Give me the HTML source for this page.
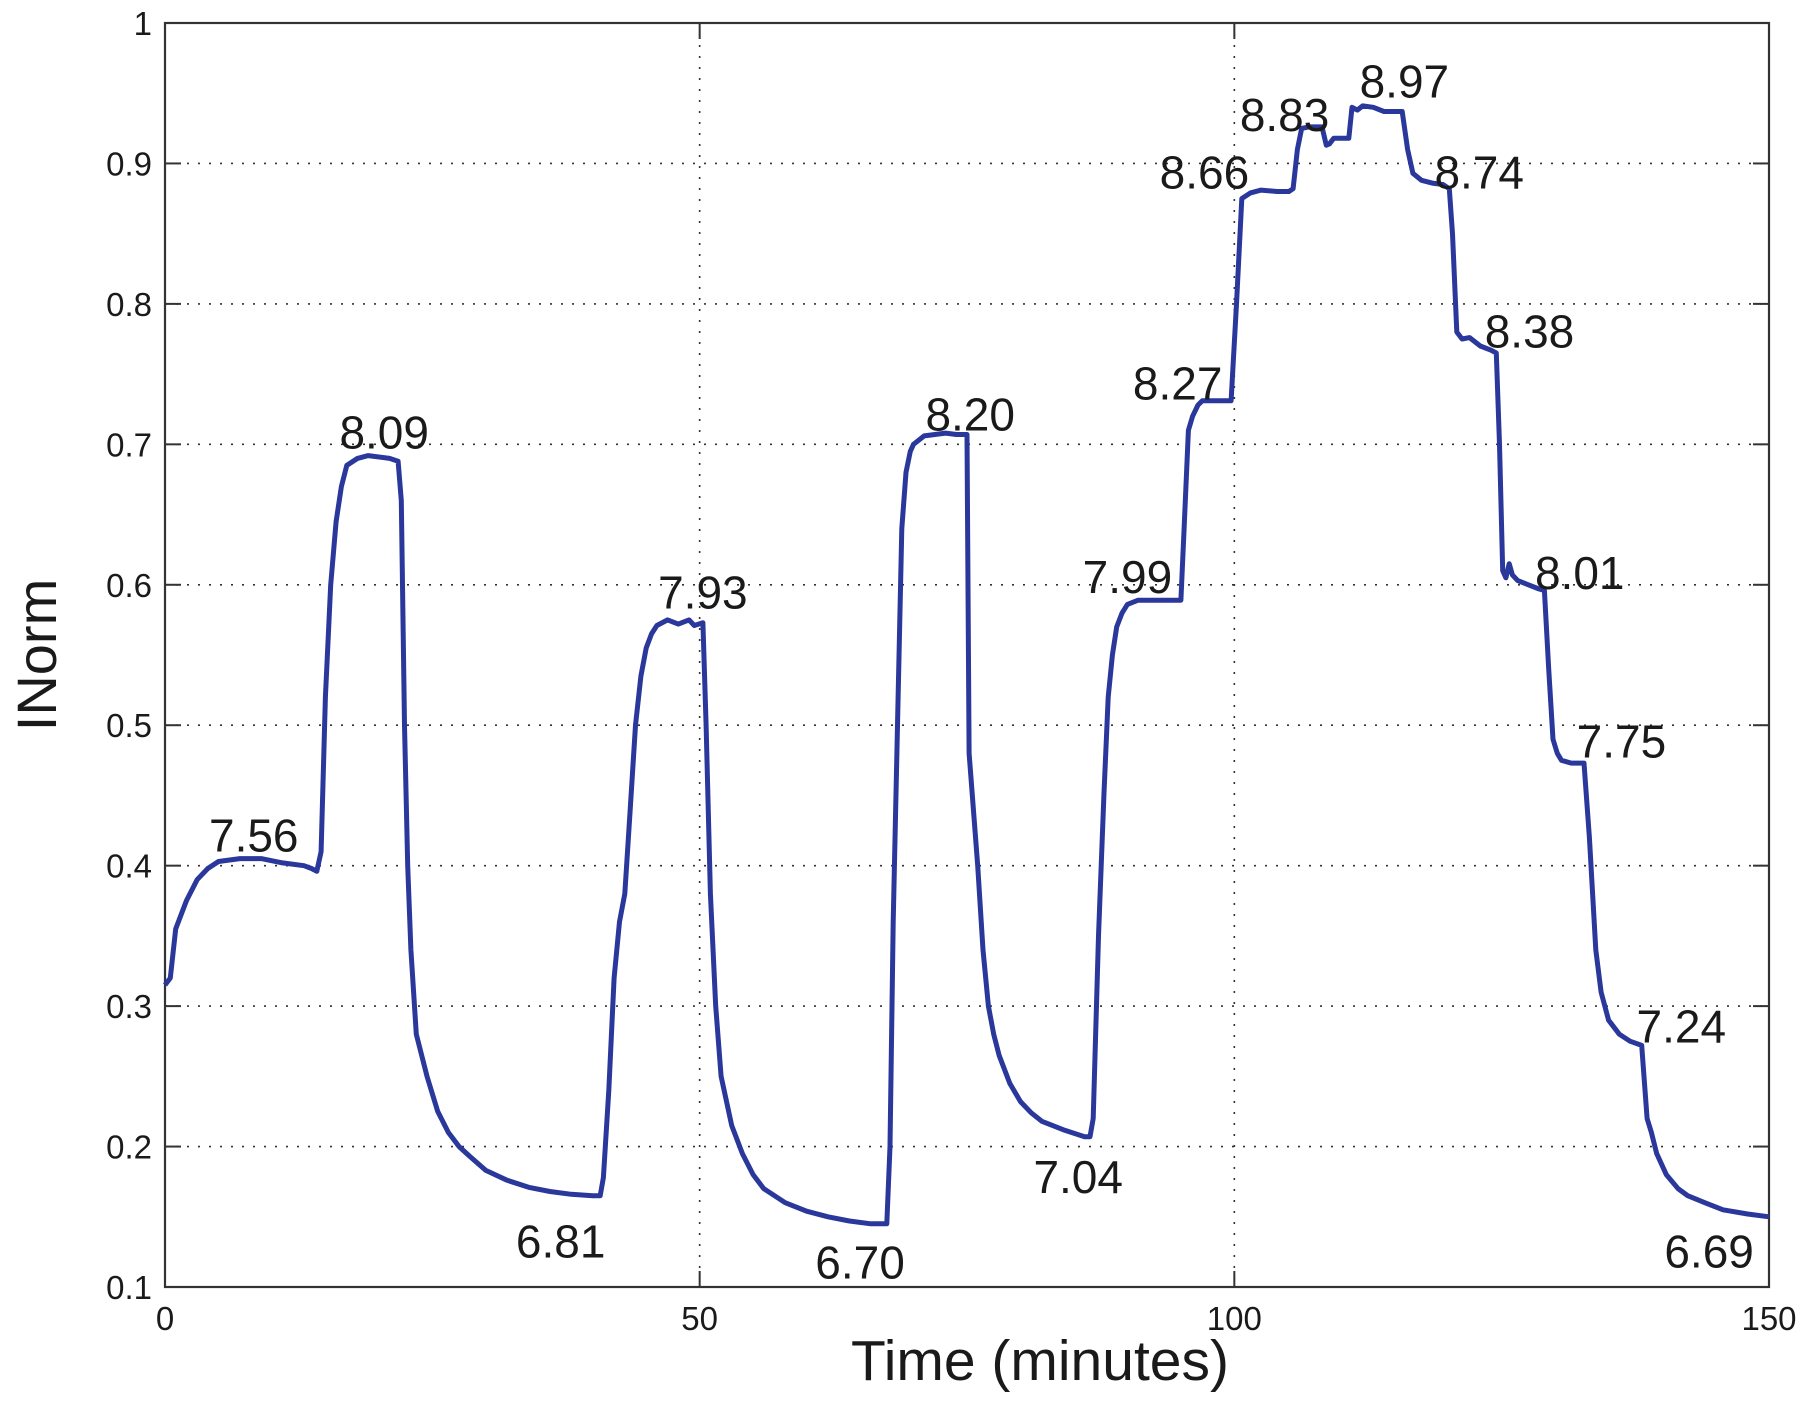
<!DOCTYPE html>
<html><head><meta charset="utf-8">
<style>
html,body{margin:0;padding:0;background:#fff;}
svg{display:block;font-family:"Liberation Sans",Arial,sans-serif;}
</style></head>
<body>
<svg id="chart" width="1811" height="1403" viewBox="0 0 1811 1403" xmlns="http://www.w3.org/2000/svg">
<g id="grid"></g>
<g id="axes"></g>
<g id="series"></g>
<g id="labels"></g>
<text x="1040" y="1380" font-size="57" text-anchor="middle" fill="#1a1a1a">Time (minutes)</text>
<text transform="translate(56,655) rotate(-90)" font-size="56" text-anchor="middle" fill="#1a1a1a">INorm</text>
</svg>
<script>
const times = [
0,0.5,1,2,3,4,5,7,9,11,
13,13.7,14.2,14.6,15,15.5,16,16.5,17,18,
19,21,21.8,22.1,22.4,22.7,23,23.5,24.5,25.5,
26.5,27.5,28.5,30,32,34,36,38,40,40.7,
41,41.5,42,42.5,43,43.5,44,44.5,45,45.5,
46,47,48,49,49.5,50.3,50.6,51,51.5,52,
53,54,55,56,58,60,62,64,66,67.5,
67.8,68.1,68.5,68.9,69.3,69.7,70,71,72,73,
74,75,75.2,75.6,76,76.5,77,77.5,78,79,
80,81,82,84,86,86.5,86.8,87.3,87.8,88.2,
88.6,89,89.5,90,91,93,95,95.3,95.7,96.1,
96.6,97,98,99.7,100.2,100.7,101.5,102.5,104,105.1,
105.5,105.9,106.3,107,108.2,108.6,108.9,109.3,110,110.7,
111,111.5,112,113,114,115,115.7,116.2,116.7,117.5,
118.5,119.5,120.1,120.4,120.8,121.3,122,123,124,124.5,
124.8,125.1,125.4,125.7,126,126.5,127.5,128.5,129,129.4,
129.8,130.2,130.6,131.5,132.7,133.2,133.8,134.3,135,136,
137,138.1,138.6,139,139.5,140.4,141.5,142.4,144,145.7,
148,150];
const inorm = [
0.315,0.32,0.355,0.375,0.39,0.398,0.403,0.405,0.405,0.402,
0.4,0.398,0.396,0.41,0.52,0.6,0.645,0.67,0.685,0.69,
0.692,0.69,0.688,0.66,0.5,0.4,0.34,0.28,0.25,0.225,
0.21,0.2,0.193,0.183,0.176,0.171,0.168,0.166,0.165,0.165,
0.178,0.24,0.32,0.36,0.38,0.44,0.5,0.535,0.555,0.565,
0.571,0.575,0.572,0.575,0.571,0.573,0.5,0.38,0.3,0.25,
0.215,0.195,0.18,0.17,0.16,0.154,0.15,0.147,0.145,0.145,
0.2,0.36,0.5,0.64,0.68,0.695,0.7,0.706,0.707,0.708,
0.707,0.707,0.48,0.44,0.4,0.34,0.3,0.28,0.265,0.245,
0.232,0.224,0.218,0.212,0.207,0.207,0.22,0.35,0.45,0.52,
0.55,0.57,0.58,0.586,0.589,0.589,0.589,0.64,0.71,0.72,
0.728,0.731,0.731,0.731,0.8,0.875,0.879,0.881,0.88,0.88,
0.882,0.91,0.925,0.926,0.926,0.913,0.914,0.918,0.918,0.918,
0.94,0.938,0.941,0.94,0.937,0.937,0.937,0.91,0.893,0.888,
0.886,0.885,0.882,0.85,0.78,0.775,0.776,0.77,0.767,0.765,
0.7,0.61,0.605,0.615,0.607,0.603,0.6,0.597,0.596,0.54,
0.49,0.48,0.475,0.473,0.473,0.42,0.34,0.31,0.29,0.28,
0.275,0.272,0.22,0.21,0.195,0.18,0.17,0.165,0.16,0.155,
0.152,0.15];
const xTicks = [0,50,100,150];
const yTicks = [0.1,0.2,0.3,0.4,0.5,0.6,0.7,0.8,0.9,1];
const annText = ["7.56","8.09","6.81","7.93","6.70","8.20","7.04","7.99","8.27","8.66","8.83","8.97","8.74","8.38","8.01","7.75","7.24","6.69"];
const annTime = [8.3,20.5,37,50.3,65,75.3,85.4,90,94.7,97.2,104.7,115.9,122.9,127.6,132.3,136.2,141.8,144.4];
const annVal = [0.41,0.697,0.121,0.583,0.106,0.71,0.167,0.594,0.732,0.882,0.923,0.947,0.882,0.769,0.597,0.477,0.274,0.114];

const NS="http://www.w3.org/2000/svg";
const L=165,R=1769,T=23,B=1287;
const xs=t=>L+(t/150)*(R-L);
const ys=v=>B-((v-0.1)/0.9)*(B-T);
function mk(tag,attrs,parent){const e=document.createElementNS(NS,tag);for(const k in attrs)e.setAttribute(k,attrs[k]);parent.appendChild(e);return e;}
const grid=document.getElementById('grid'),axes=document.getElementById('axes'),series=document.getElementById('series'),labels=document.getElementById('labels');
yTicks.forEach(v=>{
  if(v>0.1&&v<1){const g=mk('line',{x1:L,x2:R,y1:ys(v),y2:ys(v),stroke:'#333','stroke-width':1.6,'stroke-dasharray':'2 9'},grid);
  
  }
  const t1=mk('line',{x1:L,x2:L+16,y1:ys(v),y2:ys(v),stroke:'#333','stroke-width':2},axes);
  
  
  const t2=mk('line',{x1:R-16,x2:R,y1:ys(v),y2:ys(v),stroke:'#333','stroke-width':2},axes);
  
  
  const tx=mk('text',{x:L-13,y:ys(v)+12,'font-size':33,'text-anchor':'end',fill:'#1a1a1a'},axes);
  tx.textContent=String(v);
  
  
});
xTicks.forEach(t=>{
  if(t>0&&t<150){const g=mk('line',{x1:xs(t),x2:xs(t),y1:T,y2:B,stroke:'#333','stroke-width':1.6,'stroke-dasharray':'2 9'},grid);
  
  }
  const t1=mk('line',{x1:xs(t),x2:xs(t),y1:B,y2:B-16,stroke:'#333','stroke-width':2},axes);
  
  
  const t2=mk('line',{x1:xs(t),x2:xs(t),y1:T,y2:T+16,stroke:'#333','stroke-width':2},axes);
  
  
  const tx=mk('text',{x:xs(t),y:B+43,'font-size':33,'text-anchor':'middle',fill:'#1a1a1a'},axes);
  tx.textContent=String(t);
  
  
});
const box=mk('rect',{x:L,y:T,width:R-L,height:B-T,fill:'none',stroke:'#333','stroke-width':2.2},axes);


const d=times.map((t,i)=>(i?'L':'M')+xs(t).toFixed(1)+','+ys(inorm[i]).toFixed(1)).join(' ');
const p=mk('path',{d:d,fill:'none',stroke:'#2a379b','stroke-width':5,'stroke-linejoin':'round'},series);


annText.forEach((s,i)=>{
  const tx=mk('text',{x:xs(annTime[i]),y:ys(annVal[i]),'font-size':46,'text-anchor':'middle',fill:'#1a1a1a'},labels);
  tx.textContent=s;
  
  
});
</script>
</body></html>
